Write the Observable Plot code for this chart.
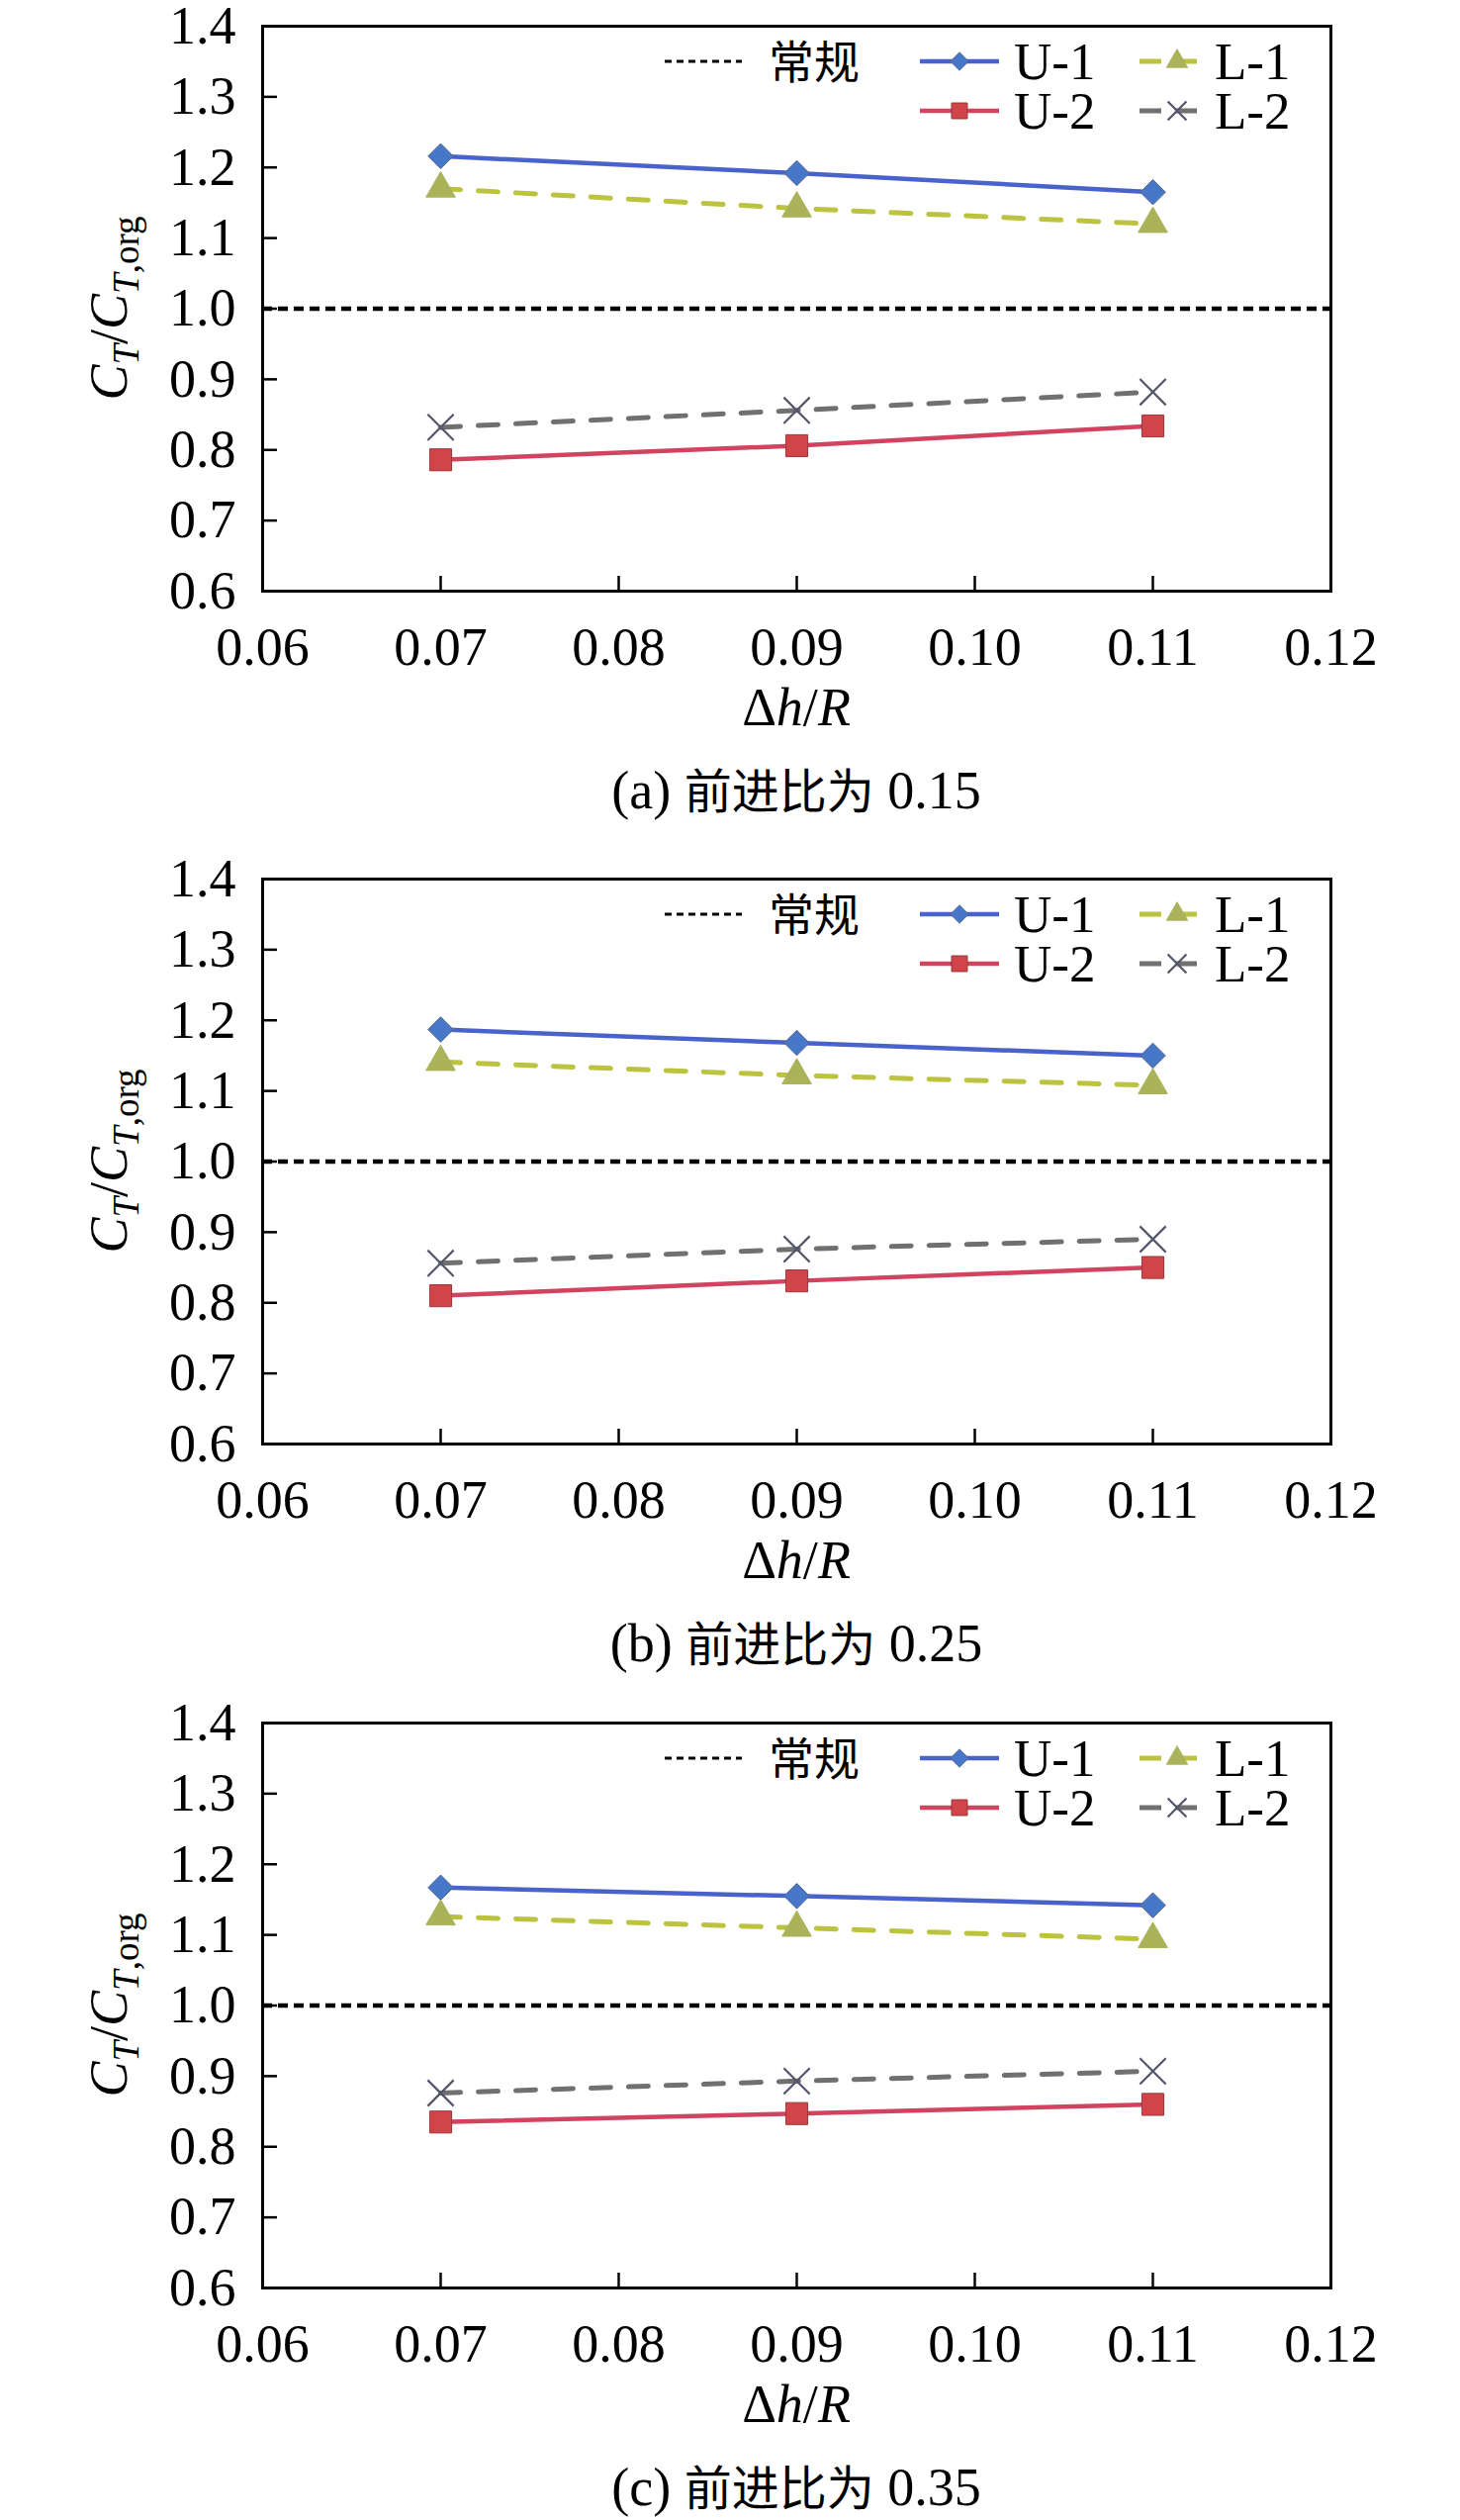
<!DOCTYPE html>
<html>
<head>
<meta charset="utf-8">
<script src="https://cdn.jsdelivr.net/npm/d3@7"></script>
<script src="https://cdn.jsdelivr.net/npm/@observablehq/plot@0.6"></script>
<style>
  html, body { margin: 0; padding: 0; background: #ffffff; }
  #root { position: relative; width: 1476px; height: 2547px; overflow: hidden; background: #ffffff;
          font-family: "Liberation Serif", "Times New Roman", serif; }
  .panel { position: absolute; left: 0; width: 1476px; }
  .panel svg { overflow: visible; }
  .caption { position: absolute; left: 405px; width: 800px; text-align: center; font-size: 54px; line-height: 62px; color: #000;
             font-family: "Liberation Serif", "Times New Roman", serif; white-space: nowrap; }
  .caption .cjk { font-family: "Noto Sans CJK SC", sans-serif; font-size: 48px; }
</style>
</head>
<body>
<div id="root"></div>
<script>
// ---------------- data ----------------
const xValues = [0.07, 0.09, 0.11];
const xTicks = [0.06, 0.07, 0.08, 0.09, 0.10, 0.11, 0.12];
const yTicks = [0.6, 0.7, 0.8, 0.9, 1.0, 1.1, 1.2, 1.3, 1.4];
const seriesNames = ["U-1", "U-2", "L-1", "L-2"];
const referenceName = "常规";
const referenceValue = [1.0];
const captionPrefix = ["(a)", "(b)", "(c)"];
const captionText = "前进比为";
const advanceRatios = ["0.15", "0.25", "0.35"];

// panel (a) advance ratio 0.15
const aU1 = [1.216, 1.192, 1.165];
const aU2 = [0.786, 0.806, 0.834];
const aL1 = [1.170, 1.142, 1.120];
const aL2 = [0.832, 0.856, 0.882];
// panel (b) advance ratio 0.25
const bU1 = [1.187, 1.168, 1.150];
const bU2 = [0.810, 0.831, 0.850];
const bL1 = [1.141, 1.122, 1.108];
const bL2 = [0.856, 0.876, 0.890];
// panel (c) advance ratio 0.35
const cU1 = [1.167, 1.155, 1.142];
const cU2 = [0.835, 0.847, 0.860];
const cL1 = [1.126, 1.110, 1.094];
const cL2 = [0.876, 0.893, 0.907];

const panelsData = [
  [aU1, aU2, aL1, aL2],
  [bU1, bU2, bL1, bL2],
  [cU1, cU2, cL1, cL2]
];

// ---------------- styles ----------------
const FONT = '"Liberation Serif", "Times New Roman", serif';
const CJK = '"Noto Sans CJK SC", sans-serif';
const styles = {
  "U-1": { stroke: "#4a62cc", dash: null, width: 4.5, symbol: d3.symbolDiamond2, r: 11.5, fill: "#4677c9", mstroke: "#56698c", mwidth: 1 },
  "U-2": { stroke: "#d1435f", dash: null, width: 4.5, symbol: d3.symbolSquare, r: 12.5, fill: "#d0444a", mstroke: "#9a3838", mwidth: 1 },
  "L-1": { stroke: "#bcc33e", dash: "20,18", width: 5, symbol: d3.symbolTriangle, r: 11, fill: "#abb35a", mstroke: "#abb35a", mwidth: 1 },
  "L-2": { stroke: "#707070", dash: "20,18", width: 5, symbol: d3.symbolTimes, r: 12, fill: "none", mstroke: "#55556a", mwidth: 2.2 }
};

const W = 1476, ML = 265, MR = 131, MT = 26, PH = 571, MB = 160;
const panelTops = [0, 862, 1715];
const root = document.getElementById("root");

function makePanel(pi) {
  const vals = panelsData[pi];
  const rows = [];
  seriesNames.forEach((s, i) => xValues.forEach((x, j) => rows.push({ series: s, x, y: vals[i][j] })));

  const marks = [
    Plot.ruleY(referenceValue, { stroke: "#000", strokeWidth: 4.5, strokeDasharray: "10,6" })
  ];
  seriesNames.forEach(s => {
    const st = styles[s];
    marks.push(Plot.line(rows.filter(d => d.series === s), {
      x: "x", y: "y", stroke: st.stroke, strokeWidth: st.width,
      strokeDasharray: st.dash || undefined
    }));
  });
  seriesNames.forEach(s => {
    const st = styles[s];
    marks.push(Plot.dot(rows.filter(d => d.series === s), {
      x: "x", y: "y", symbol: st.symbol, r: st.r, fill: st.fill,
      stroke: st.mstroke, strokeWidth: st.mwidth
    }));
  });
  marks.push(Plot.frame({ stroke: "#000", strokeWidth: 3 }));
  marks.push(Plot.axisX({ ticks: xTicks, tickFormat: d => d.toFixed(2), tickSize: -15, tickPadding: 51, strokeWidth: 2.5, label: null }));
  marks.push(Plot.axisY({ ticks: yTicks, tickFormat: d => d.toFixed(1), tickSize: -15, tickPadding: 42, strokeWidth: 2.5, label: null }));

  const svg = Plot.plot({
    width: W, height: MT + PH + MB,
    marginLeft: ML, marginRight: MR, marginTop: MT, marginBottom: MB,
    style: { fontFamily: FONT, fontSize: "54px", background: "transparent", color: "#000", overflow: "visible" },
    x: { domain: [0.06, 0.12], label: null },
    y: { domain: [0.6, 1.4], label: null },
    marks
  });

  const sel = d3.select(svg);
  // y-axis title
  const yt = sel.append("text")
    .attr("transform", `translate(128, ${MT + PH / 2}) rotate(-90)`)
    .attr("text-anchor", "middle")
    .attr("font-family", FONT).attr("font-size", 54).attr("fill", "#000");
  yt.append("tspan").attr("font-style", "italic").text("C");
  yt.append("tspan").attr("font-style", "italic").attr("font-size", 37).attr("dy", 12).text("T");
  yt.append("tspan").attr("dy", -12).text("/");
  yt.append("tspan").attr("font-style", "italic").text("C");
  yt.append("tspan").attr("font-style", "italic").attr("font-size", 37).attr("dy", 12).text("T");
  yt.append("tspan").attr("font-size", 37).text(",org");

  // x-axis title
  const xt = sel.append("text")
    .attr("x", (ML + (W - MR)) / 2).attr("y", MT + PH + 136)
    .attr("text-anchor", "middle")
    .attr("font-family", FONT).attr("font-size", 54).attr("fill", "#000");
  xt.append("tspan").text("Δ");
  xt.append("tspan").attr("font-style", "italic").text("h");
  xt.append("tspan").text("/");
  xt.append("tspan").attr("font-style", "italic").text("R");

  // legend
  const lg = sel.append("g").attr("text-anchor", "start");
  const rowsY = [MT + 36, MT + 86];
  lg.append("line").attr("x1", 672).attr("x2", 750).attr("y1", rowsY[0]).attr("y2", rowsY[0])
    .attr("stroke", "#000").attr("stroke-width", 3).attr("stroke-dasharray", "7,5");
  lg.append("text").attr("x", 777).attr("y", rowsY[0] + 17).attr("text-anchor", "start")
    .attr("font-family", CJK).attr("font-size", 46).attr("fill", "#000").text(referenceName);
  const legendPos = {
    "U-1": { row: 0, x0: 930, x1: 1010, mx: 970, tx: 1025 },
    "L-1": { row: 0, x0: 1152, x1: 1215, mx: 1190, tx: 1228 },
    "U-2": { row: 1, x0: 930, x1: 1010, mx: 970, tx: 1025 },
    "L-2": { row: 1, x0: 1152, x1: 1215, mx: 1190, tx: 1228 }
  };
  seriesNames.forEach(s => {
    const st = styles[s], p = legendPos[s], y = rowsY[p.row];
    lg.append("line").attr("x1", p.x0).attr("x2", p.x1).attr("y1", y).attr("y2", y)
      .attr("stroke", st.stroke).attr("stroke-width", st.width)
      .attr("stroke-dasharray", st.dash ? "22,14" : null);
    const size = Math.PI * (st.r * 0.72) ** 2;
    lg.append("path").attr("d", d3.symbol(st.symbol, size)())
      .attr("transform", `translate(${p.mx},${y})`)
      .attr("fill", st.fill).attr("stroke", st.mstroke).attr("stroke-width", st.mwidth);
    lg.append("text").attr("x", p.tx).attr("y", y + 18).attr("text-anchor", "start")
      .attr("font-family", FONT).attr("font-size", 53).attr("fill", "#000").text(s);
  });

  const div = document.createElement("div");
  div.className = "panel";
  div.style.top = panelTops[pi] + "px";
  div.appendChild(svg);
  root.appendChild(div);

  const cap = document.createElement("div");
  cap.className = "caption";
  cap.style.top = (panelTops[pi] + MT + PH + 199 - 31) + "px";
  cap.innerHTML = `${captionPrefix[pi]} <span class="cjk">${captionText}</span> ${advanceRatios[pi]}`;
  root.appendChild(cap);
}

[0, 1, 2].forEach(makePanel);
</script>
</body>
</html>
